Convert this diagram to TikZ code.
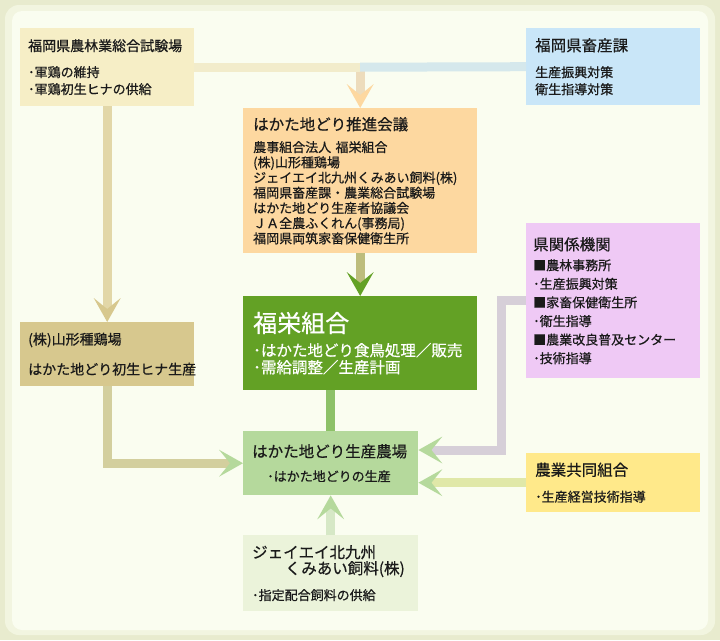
\documentclass[tikz,border=0pt]{standalone}
\usepackage{fontspec}
\setmainfont{Noto Sans CJK JP}[UprightFeatures={FakeBold=0.6}]
\usetikzlibrary{arrows.meta}
\setlength{\parindent}{0pt}
\definecolor{bgout}{HTML}{E8EBCE}
\definecolor{bgmid}{HTML}{F2F5E0}
\definecolor{bgin}{HTML}{FAFDF0}
\definecolor{c1}{HTML}{F6EEC6}
\definecolor{c2}{HTML}{C9E6F8}
\definecolor{c3}{HTML}{FDD8A0}
\definecolor{c4}{HTML}{63A125}
\definecolor{c5}{HTML}{EFC9F5}
\definecolor{c6}{HTML}{D7C88E}
\definecolor{c7}{HTML}{B5D99C}
\definecolor{c8}{HTML}{FFE98A}
\definecolor{c9}{HTML}{EBF3DA}
\definecolor{ink}{HTML}{1A1A1A}
% stem colours
\definecolor{s1}{HTML}{F2ECCB}
\definecolor{s2}{HTML}{D5E8EC}
\definecolor{s3}{HTML}{EDDCBC}
\definecolor{s4}{HTML}{BDBD7C}
\definecolor{s6}{HTML}{E2D7A8}
\definecolor{s7}{HTML}{8DC168}
\definecolor{s8}{HTML}{D3CF9E}
\definecolor{s5}{HTML}{D6CFD8}
\definecolor{s9}{HTML}{E0E8A8}
\definecolor{s10}{HTML}{D6E8C6}
\newcommand{\hd}[2][15.5]{{\fontsize{#1}{16}\selectfont #2\par}}
\tikzset{
unit/.style={anchor=north west,inner xsep=8pt,inner ysep=0pt,align=left,text=ink,font=\fontsize{13}{17}\selectfont},
stem/.style={draw=#1,line width=9pt},
flow/.style 2 args={draw=#1,line width=9pt,-{Stealth[length=24pt,width=27pt,inset=11pt,line width=0pt,color=#2]}}
}
\begin{document}
\begin{tikzpicture}[x=1pt,y=-1pt]
\useasboundingbox (0,0) rectangle (720,640);
% background frame
\fill[bgout] (0,0) rectangle (720,640);
\fill[bgmid,rounded corners=14pt] (5,5) rectangle (715,635);
\fill[bgin,rounded corners=10pt] (12,11) rectangle (708,630);
% boxes
\node[unit,fill=c1,text width=158pt,minimum height=78pt] (shiken) at (20,28)
 {\hd[14]{福岡県農林業総合試験場}\vspace{9pt}･軍鶏の維持\\･軍鶏初生ヒナの供給};
\node[unit,fill=c2,inner xsep=9pt,text width=156pt,minimum height=77pt] (chikusan) at (526,28)
 {\hd{福岡県畜産課}\vspace{9pt}生産振興対策\\衛生指導対策};
\node[unit,fill=c3,inner xsep=10pt,text width=214pt,minimum height=145pt,font=\fontsize{13}{15.2}\selectfont] (suishin) at (243,108)
 {\hd{はかた地どり推進会議}\vspace{6.8pt}農事組合法人 福栄組合\\(株)山形種鶏場\\ジェイエイ北九州くみあい飼料(株)\\福岡県畜産課・農業総合試験場\\はかた地どり生産者協議会\\ＪＡ全農ふくれん(事務局)\\福岡県両筑家畜保健衛生所};
\node[unit,fill=c4,text=white,inner xsep=10pt,text width=214pt,minimum height=94pt,font=\fontsize{15.5}{17}\selectfont] (fukuei) at (243,296)
 {\hd[24]{福栄組合}\vspace{7pt}･はかた地どり食鳥処理／販売\\･需給調整／生産計画};
\node[unit,fill=c5,inner xsep=7pt,text width=160pt,minimum height=155pt,font=\fontsize{13}{18.6}\selectfont] (ken) at (526,223)
 {\hd{県関係機関}\vspace{1.4pt}■農林事務所\\･生産振興対策\\■家畜保健衛生所\\･衛生指導\\■農業改良普及センター\\･技術指導};
\node[unit,fill=c6,text width=158pt,minimum height=64pt,font=\fontsize{14}{16}\selectfont] (yamagata) at (20,322)
 {\hd[14]{(株)山形種鶏場}\vspace{14pt}はかた地どり初生ヒナ生産};
\node[unit,fill=c7,inner xsep=9pt,text width=157pt,minimum height=64pt] (noujou) at (243,431)
 {\hd{はかた地どり生産農場}\vspace{7pt}\hspace*{15pt}･はかた地どりの生産};
\node[unit,fill=c8,inner xsep=9pt,text width=156pt,minimum height=59pt] (ja) at (526,453)
 {\hd{農業共同組合}\vspace{9pt}･生産経営技術指導};
\node[unit,fill=c9,inner xsep=9pt,text width=157pt,minimum height=76pt] (kumiai) at (243,535)
 {\hd{ジェイエイ北九州\\\hspace*{33pt}くみあい飼料(株)}\vspace{9pt}･指定配合飼料の供給};
% connectors
\coordinate (bend) at (501,450);
\draw[flow={s3}{c3}] (suishin.north |- shiken.east) -- (suishin.north);
\draw[stem=s1] (shiken.east) -- (suishin.north |- shiken.east);
\draw[stem=s2] (suishin.north |- shiken.east) -- (chikusan.west);
\draw[flow={s6}{c6}] (shiken.south) -- (yamagata.north);
\draw[flow={s4}{c4}] (suishin.south) -- (fukuei.north);
\draw[stem=s7] (fukuei.south -| noujou.north) -- (noujou.north);
\draw[flow={s8}{c7}] (yamagata.south) |- (noujou.west);
\draw[flow={s5}{c7}] (ken.west) -| (bend) -- (noujou.east |- bend);
\draw[flow={s9}{c7}] (ja.west) -- (ja.west -| noujou.east);
\draw[flow={s10}{c7}] (kumiai.north) -- (noujou.south);
\end{tikzpicture}
\end{document}
